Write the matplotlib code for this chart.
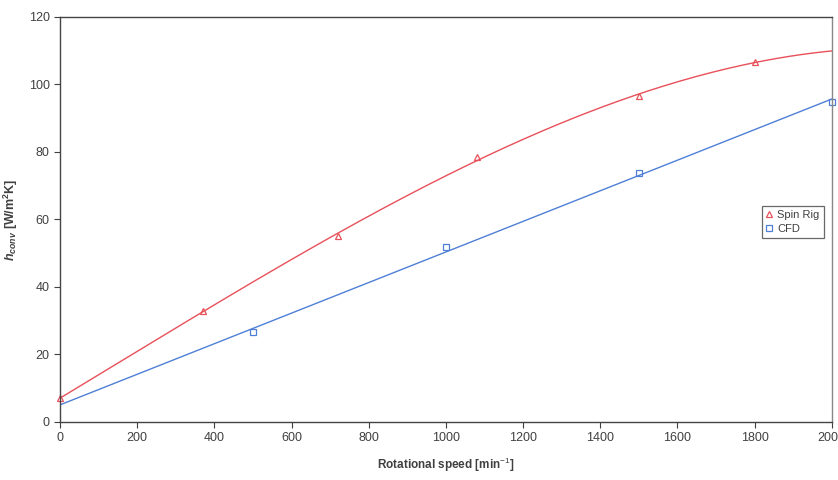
import numpy as np
import matplotlib
matplotlib.use("Agg")
import matplotlib.pyplot as plt

plt.rcParams["font.family"] = ["Liberation Sans", "DejaVu Sans"]
plt.rcParams["mathtext.fontset"] = "custom"
plt.rcParams["mathtext.rm"] = "Liberation Sans"
plt.rcParams["mathtext.bf"] = "Liberation Sans:bold"
plt.rcParams["mathtext.bfit"] = "Liberation Sans:bold:italic"

spin_speed = [0, 370, 720, 1080, 1500, 1800]
spin_h = [7.0, 33.0, 55.0, 78.5, 96.5, 106.7]
cfd_speed = [500, 1000, 1500, 2000]
cfd_h = [26.5, 51.8, 73.8, 94.7]

xticks = [0, 200, 400, 600, 800, 1000, 1200, 1400, 1600, 1800, 2000]
yticks = [0, 20, 40, 60, 80, 100, 120]

red = "#e8505a"
blue = "#4f7fd6"
txt = "#404040"

fig = plt.figure(figsize=(8.38, 4.8), dpi=100)
ax = fig.add_axes([0.0716, 0.121, 0.921, 0.8436])

# trendlines: polynomial for the rig data, linear for CFD
xs = np.linspace(0, 2000, 200)
p_spin = np.polyfit(spin_speed, spin_h, 3)
p_cfd = np.polyfit(cfd_speed, cfd_h, 1)
ax.plot(xs, np.polyval(p_spin, xs), color=red, lw=1.0)
ax.plot(xs, np.polyval(p_cfd, xs), color=blue, lw=1.0)

ax.plot(spin_speed, spin_h, ls="none", marker="^", ms=5, mfc="none",
        mec=red, mew=0.9, label="Spin Rig", clip_on=False)
ax.plot(cfd_speed, cfd_h, ls="none", marker="s", ms=4.5, mfc="none",
        mec=blue, mew=0.9, label="CFD", clip_on=False)

ax.set_xlim(0, 2000)
ax.set_ylim(0, 120)
ax.set_xticks(xticks)
ax.set_yticks(yticks)
ax.tick_params(direction="out", length=4, labelsize=9, colors=txt)
for s in ax.spines.values():
    s.set_color("#444444")
    s.set_linewidth(1.0)
ax.spines["right"].set_color("#888888")

ax.set_xlabel("Rotational speed [min$^{-1}$]", fontsize=8.5, fontweight="bold",
              color=txt, labelpad=8)
ax.set_ylabel(r"$\mathbfit{h}_{\mathbfit{conv}}$ [W/m$^{\mathbf{2}}$K]", fontsize=9,
              fontweight="bold", color=txt, labelpad=6)

leg = ax.legend(loc="center right", bbox_to_anchor=(0.997, 0.494), fontsize=8,
                frameon=True, fancybox=False, handlelength=0.6,
                handletextpad=0.4, borderpad=0.4, labelspacing=0.3)
leg.get_frame().set_edgecolor("#444444")
leg.get_frame().set_linewidth(0.9)
for t in leg.get_texts():
    t.set_color(txt)

fig.savefig("out.png", dpi=100)
